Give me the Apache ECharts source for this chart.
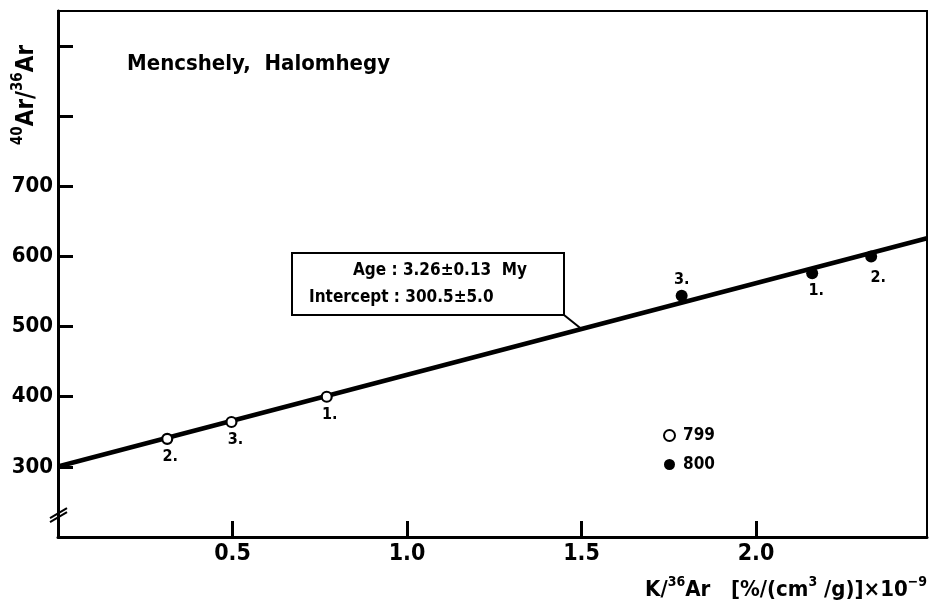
<!DOCTYPE html>
<html><head><meta charset="utf-8">
<script src="https://cdn.jsdelivr.net/npm/echarts@6/dist/echarts.min.js"></script>
<style>html,body{margin:0;padding:0;background:#fff}#c{width:936px;height:607px}</style>
</head><body><div id="c"></div>
<script>
// ---- data ----
const sample799X = [0.313, 0.497, 0.770];
const sample799Y = [340, 364, 400];
const sample799Names = ['2.', '3.', '1.'];
const sample800X = [1.787, 2.161, 2.330];
const sample800Y = [544, 576, 600];
const sample800Names = ['3.', '1.', '2.'];
const isochronX = [0, 2.49];
const isochronY = [300.5, 626];
const xTickLabels = [0.5, 1.0, 1.5, 2.0];
const yTickLabels = [300, 400, 500, 600, 700];
const yTickMarks = [300, 400, 500, 600, 700, 800, 900];
const seriesNames = ['799', '800'];
const titleText = 'Mencshely,  Halomhegy';
const ageText = 'Age : 3.26±0.13  My';
const interceptText = 'Intercept : 300.5±5.0';

// ---- styles ----
const FONT = '"Liberation Sans Narrow","DejaVu Sans Condensed","Roboto Condensed","DejaVu Sans",sans-serif';
const label799Pos = [
  {position:'bottom', distance:4, offset:[3,0]},
  {position:'bottom', distance:4, offset:[4,0]},
  {position:'bottom', distance:4, offset:[3,0]}
];
const label800Pos = [
  {position:'top', distance:2, offset:[0,0]},
  {position:'bottom', distance:4, offset:[4,0]},
  {position:'bottom', distance:5, offset:[7,2]}
];

const chart = echarts.init(document.getElementById('c'), null, {renderer:'canvas', width:936, height:607});

function pts(xs, ys, names, pos) {
  return xs.map((x, i) => ({value:[x, ys[i]], name:names[i], label:pos[i]}));
}

const option = {
  backgroundColor:'#fff',
  animation:false,
  title:{
    text:titleText, left:122, top:48,
    textStyle:{fontFamily:FONT, fontWeight:'bold', fontSize:22, color:'#000'}
  },
  grid:{left:58, top:11, right:9, bottom:70, show:true, borderColor:'#000', borderWidth:2, backgroundColor:'transparent'},
  legend:{
    orient:'vertical', left:658, top:422, itemWidth:11, itemHeight:11, itemGap:12,
    selectedMode:false,
    textStyle:{fontFamily:FONT, fontWeight:'bold', fontSize:17, color:'#000', padding:[0,0,0,3]},
    data:[
      {name:seriesNames[0], icon:'circle', itemStyle:{color:'#fff', borderColor:'#000', borderWidth:2, opacity:1}},
      {name:seriesNames[1], icon:'circle', itemStyle:{color:'#000', borderWidth:0, opacity:1}}
    ]
  },
  xAxis:{
    type:'value', min:0, max:2.49, interval:0.5,
    axisLine:{show:true, onZero:false, lineStyle:{color:'#000', width:3}},
    axisTick:{show:true, inside:true, length:16, customValues:xTickLabels, lineStyle:{color:'#000', width:3}},
    axisLabel:{customValues:xTickLabels, formatter:v => v.toFixed(1), fontFamily:FONT, fontWeight:'bold', fontSize:23, color:'#000', margin:6},
    splitLine:{show:false},
    name:'{t|K/}{s|36}{t|Ar   [%/(cm}{s|3}{t| /g)]×10}{s|−9}',
    nameLocation:'end', nameGap:0,
    nameTextStyle:{
      align:'right', verticalAlign:'top', padding:[38,0,0,0],
      rich:{
        t:{fontFamily:FONT, fontWeight:'bold', fontSize:22, color:'#000', verticalAlign:'bottom', lineHeight:26},
        s:{fontFamily:FONT, fontWeight:'bold', fontSize:14, color:'#000', verticalAlign:'top', lineHeight:26}
      }
    }
  },
  yAxis:{
    type:'value', min:200, max:950, interval:100,
    axisLine:{show:true, onZero:false, lineStyle:{color:'#000', width:3}},
    axisTick:{show:true, inside:true, length:15, customValues:yTickMarks, lineStyle:{color:'#000', width:3}},
    axisLabel:{customValues:yTickLabels, fontFamily:FONT, fontWeight:'bold', fontSize:22, color:'#000', margin:5},
    splitLine:{show:false}
  },
  series:[
    {
      name:'isochron', type:'line', data:isochronX.map((x,i)=>[x, isochronY[i]]),
      symbol:'none', silent:true, z:2,
      lineStyle:{color:'#000', width:4.5}
    },
    {
      name:seriesNames[0], type:'scatter', z:3,
      data:pts(sample799X, sample799Y, sample799Names, label799Pos),
      symbol:'circle', symbolSize:10,
      itemStyle:{color:'#fff', borderColor:'#000', borderWidth:2.2, opacity:1},
      label:{show:true, formatter:p=>p.name, fontFamily:FONT, fontWeight:'bold', fontSize:16, color:'#000'}
    },
    {
      name:seriesNames[1], type:'scatter', z:3,
      data:pts(sample800X, sample800Y, sample800Names, label800Pos),
      symbol:'circle', symbolSize:12,
      itemStyle:{color:'#000', opacity:1},
      label:{show:true, formatter:p=>p.name, fontFamily:FONT, fontWeight:'bold', fontSize:16, color:'#000'}
    }
  ]
};
chart.setOption(option);

// annotations positioned from the axes
const anchorX = 1.5;
const anchorY = isochronY[0] + (isochronY[1]-isochronY[0]) * (anchorX - isochronX[0]) / (isochronX[1]-isochronX[0]);
const anchor = chart.convertToPixel({gridIndex:0}, [anchorX, anchorY]);
const brk = chart.convertToPixel({gridIndex:0}, [0, 234]);
const boxL = 292, boxT = 253, boxW = 272, boxH = 62;

chart.setOption({
  graphic:[
    {type:'text', x:25, y:95, rotation:Math.PI/2, z:10,
      style:{text:'{s|40}{t|Ar/}{s|36}{t|Ar}', align:'center', verticalAlign:'middle',
        rich:{
          t:{fontFamily:FONT, fontWeight:'bold', fontSize:24, fill:'#000', verticalAlign:'bottom', lineHeight:28},
          s:{fontFamily:FONT, fontWeight:'bold', fontSize:15, fill:'#000', verticalAlign:'top', lineHeight:28}
        }}},
    {type:'rect', z:10, shape:{x:boxL, y:boxT, width:boxW, height:boxH},
      style:{fill:'#fff', stroke:'#000', lineWidth:2}},
    {type:'text', z:11, x:boxL+61, y:boxT+18,
      style:{text:ageText, fontFamily:FONT, fontWeight:'bold', fontSize:17, fill:'#000', align:'left', verticalAlign:'middle'}},
    {type:'text', z:11, x:boxL+17, y:boxT+45,
      style:{text:interceptText, fontFamily:FONT, fontWeight:'bold', fontSize:17, fill:'#000', align:'left', verticalAlign:'middle'}},
    {type:'line', z:10, shape:{x1:boxL+boxW, y1:boxT+boxH, x2:anchor[0], y2:anchor[1]},
      style:{stroke:'#000', lineWidth:2}},
    {type:'line', z:10, shape:{x1:brk[0]-8, y1:brk[1]+5, x2:brk[0]+9, y2:brk[1]-5}, style:{stroke:'#000', lineWidth:2}},
    {type:'line', z:10, shape:{x1:brk[0]-8, y1:brk[1]+9, x2:brk[0]+9, y2:brk[1]-1}, style:{stroke:'#000', lineWidth:2}}
  ]
});
</script></body></html>
